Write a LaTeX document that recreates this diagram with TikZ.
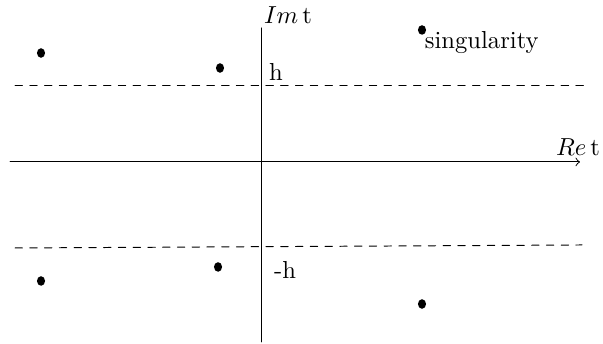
\documentclass[tikz,border=0pt]{standalone}
\usetikzlibrary{shapes.geometric}
\begin{document}
\begin{tikzpicture}[scale=1, line join=round, line cap=round, >=to]
\tikzset{pole/.style={ellipse, fill=black, inner sep=0pt, minimum width=3.3pt, minimum height=3.9pt}}
\useasboundingbox (-3.729,-2.6) rectangle (4.886,2.314);
% axes
\coordinate (xl) at (-3.586,0); \coordinate (xr) at (4.557,0);
\coordinate (yb) at (0,-2.571); \coordinate (yt) at (0,1.914);
\draw[->] (xl)--(xr);
\draw (yb)--(yt);
\node (re) at (4.529,0.214) {$Re\,$t};
\node (im) at (0.386,2.1) {$Im\,$t};
% strip |Im t| < h
\coordinate (ul) at (-3.514,1.086); \coordinate (ur) at (4.629,1.086);
\coordinate (ll) at (-3.514,-1.229); \coordinate (lr) at (4.586,-1.186);
\draw[dashed] (ul)--(ur);
\draw[dashed] (ll)--(lr);
\node (h) at (0.214,1.286) {h};
\node (mh) at (0.343,-1.543) {-h};
% singularities
\foreach \x/\y/\n in {-3.143/1.557/p1,-0.586/1.343/p2,2.3/1.886/p3,-3.143/-1.7/p4,-0.614/-1.5/p5,2.3/-2.029/p6}
  \node[pole] (\n) at (\x,\y) {};
\node[anchor=north west, inner sep=0pt] (sing) at ([xshift=1pt,yshift=-0.5pt]p3.center) {singularity};
\end{tikzpicture}
\end{document}
